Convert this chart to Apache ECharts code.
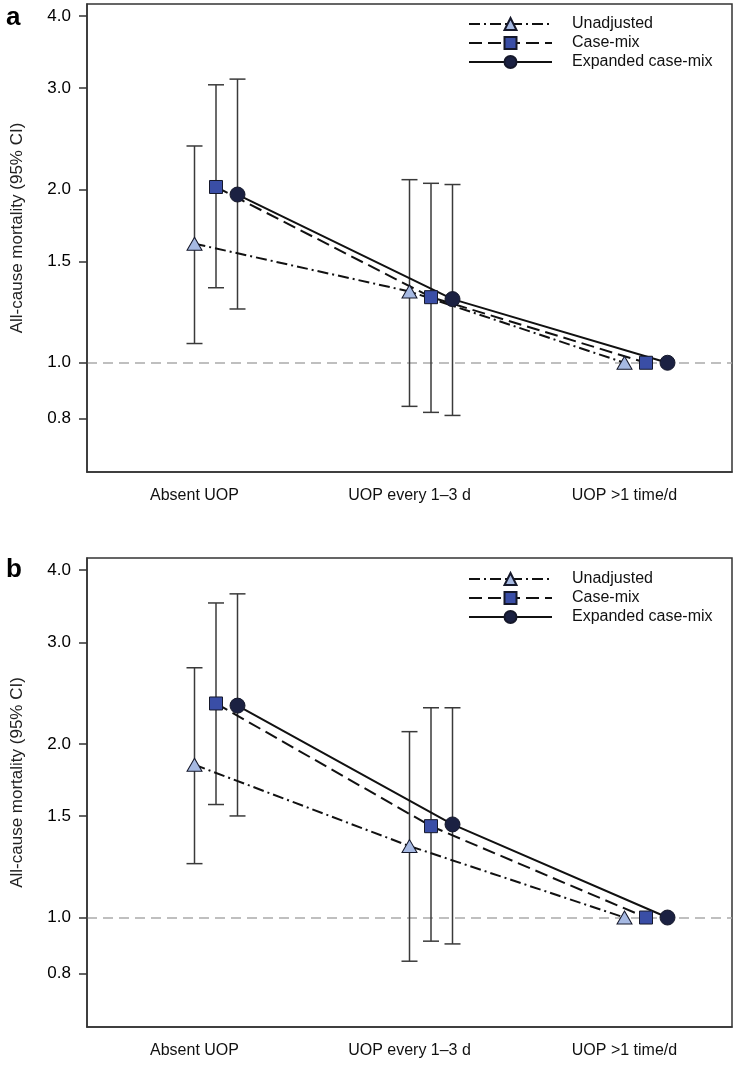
<!DOCTYPE html>
<html>
<head>
<meta charset="utf-8">
<title>All-cause mortality by UOP</title>
<script src="https://cdn.jsdelivr.net/npm/echarts@6/dist/echarts.min.js"></script>
<style>
  html, body { margin: 0; padding: 0; background: #fff; }
  #chart { width: 736px; height: 1065px; }
</style>
</head>
<body>
<div id="chart"></div>
<script>
// categories and legend names
const categories = ["Absent UOP", "UOP every 1\u20133 d", "UOP >1 time/d"];
const seriesNames = ["Unadjusted", "Case-mix", "Expanded case-mix"];
const yTicks = [0.8, 1.0, 1.5, 2.0, 3.0, 4.0];

// panel a: estimates, lower and upper 95% CI (reference group has none)
const aUnadj = [1.61, 1.33, 1.0];
const aUnadjLo = [1.08, 0.84, null];
const aUnadjHi = [2.38, 2.08, null];
const aCase = [2.02, 1.30, 1.0];
const aCaseLo = [1.35, 0.82, null];
const aCaseHi = [3.04, 2.05, null];
const aExp = [1.96, 1.29, 1.0];
const aExpLo = [1.24, 0.81, null];
const aExpHi = [3.11, 2.04, null];

// panel b
const bUnadj = [1.84, 1.33, 1.0];
const bUnadjLo = [1.24, 0.84, null];
const bUnadjHi = [2.71, 2.10, null];
const bCase = [2.35, 1.44, 1.0];
const bCaseLo = [1.57, 0.91, null];
const bCaseHi = [3.51, 2.31, null];
const bExp = [2.33, 1.45, 1.0];
const bExpLo = [1.50, 0.90, null];
const bExpHi = [3.64, 2.31, null];

const FONT = "'Liberation Sans', Arial, sans-serif";
const dodge = 0.1; // horizontal shift between the three models

const styles = [
  { symbol: "triangle", size: [15, 13], fill: "#a6b9e2", dash: [11, 4, 2, 4] },
  { symbol: "rect", size: 13, fill: "#3a4ea6", dash: [13, 6] },
  { symbol: "circle", size: 15, fill: "#1b2142", dash: "solid" },
];

const chart = echarts.init(document.getElementById("chart"));

function errorBars(lo, hi, k) {
  const d = [];
  lo.forEach((v, i) => {
    if (v != null) d.push([i + k * dodge, v, hi[i]]);
  });
  return d;
}

function panelSeries(p, est, lo, hi) {
  const out = [];
  est.forEach((vals, k) => {
    out.push({
      type: "custom",
      name: seriesNames[k] + " CI",
      xAxisIndex: p * 2 + 1,
      yAxisIndex: p,
      z: 1,
      silent: true,
      data: errorBars(lo[k], hi[k], k),
      renderItem(params, api) {
        const x = api.value(0);
        const a = api.coord([x, api.value(1)]);
        const b = api.coord([x, api.value(2)]);
        const w = 8;
        const st = { stroke: "#3a3a3a", lineWidth: 1.5 };
        return {
          type: "group",
          children: [
            { type: "line", shape: { x1: a[0], y1: a[1], x2: b[0], y2: b[1] }, style: st },
            { type: "line", shape: { x1: a[0] - w, y1: a[1], x2: a[0] + w, y2: a[1] }, style: st },
            { type: "line", shape: { x1: b[0] - w, y1: b[1], x2: b[0] + w, y2: b[1] }, style: st },
          ],
        };
      },
    });
  });
  est.forEach((vals, k) => {
    const s = styles[k];
    const line = {
      type: "line",
      name: seriesNames[k],
      xAxisIndex: p * 2 + 1,
      yAxisIndex: p,
      z: 3,
      data: vals.map((v, i) => [i + k * dodge, v]),
      symbol: s.symbol,
      symbolSize: s.size,
      showAllSymbol: true,
      lineStyle: { color: "#111", width: 2, type: s.dash },
      itemStyle: { color: s.fill, borderColor: "#15182a", borderWidth: 1 },
      emphasis: { disabled: true },
      animation: false,
    };
    if (k === 0) {
      line.markLine = {
        silent: true,
        symbol: "none",
        z: 0,
        label: { show: false },
        lineStyle: { color: "#aaa", width: 1.5, type: [10, 6] },
        data: [{ yAxis: 1 }],
      };
    }
    out.push(line);
  });
  return out;
}

const grids = [
  { left: 87, right: 4, top: 4, height: 468 },
  { left: 87, right: 4, top: 558, height: 469 },
];

const xAxes = [];
const yAxes = [];
grids.forEach((g, p) => {
  xAxes.push({
    type: "category",
    gridIndex: p,
    data: categories,
    boundaryGap: true,
    axisLine: { onZero: false, lineStyle: { color: "#333", width: 1.5 } },
    axisTick: { alignWithLabel: true, length: 8, lineStyle: { color: "#333", width: 1.5 } },
    axisLabel: { color: "#111", fontSize: 16, fontFamily: FONT, margin: 16 },
  });
  xAxes.push({ type: "value", gridIndex: p, min: -0.5, max: 2.5, show: false });
  yAxes.push({
    type: "log",
    logBase: 10,
    gridIndex: p,
    min: 0.646,
    max: 4.2,
    name: "All-cause mortality (95% CI)",
    nameLocation: "middle",
    nameGap: 61,
    nameTextStyle: { color: "#222", fontSize: 17, fontFamily: FONT, padding: [0, 0, 0, 20] },
    axisLine: { show: true, onZero: false, lineStyle: { color: "#333", width: 1.5 } },
    axisTick: { show: true, length: 8, customValues: yTicks, lineStyle: { color: "#333", width: 1.5 } },
    axisLabel: {
      color: "#000",
      fontSize: 17,
      fontFamily: FONT,
      margin: 16,
      customValues: yTicks,
      formatter: (v) => Number(v).toFixed(1),
    },
    splitLine: { show: false },
    minorTick: { show: false },
  });
});

const legendBase = {
  orient: "vertical",
  left: 463,
  itemWidth: 83,
  itemHeight: 15,
  itemGap: 3,
  data: seriesNames,
  selectedMode: false,
  textStyle: { color: "#111", fontSize: 16, fontFamily: FONT, padding: [0, 0, 0, 15] },
};

chart.setOption({
  animation: false,
  backgroundColor: "#fff",
  title: [
    { text: "a", left: 1, top: 0, textStyle: { fontSize: 26, fontWeight: "bold", color: "#000", fontFamily: FONT } },
    { text: "b", left: 1, top: 552, textStyle: { fontSize: 26, fontWeight: "bold", color: "#000", fontFamily: FONT } },
  ],
  legend: [
    Object.assign({}, legendBase, { top: 11 }),
    Object.assign({}, legendBase, { top: 566 }),
  ],
  grid: grids.map((g) => Object.assign({ show: true, borderColor: "#333", borderWidth: 1.5 }, g)),
  xAxis: xAxes,
  yAxis: yAxes,
  series: [].concat(
    panelSeries(0, [aUnadj, aCase, aExp], [aUnadjLo, aCaseLo, aExpLo], [aUnadjHi, aCaseHi, aExpHi]),
    panelSeries(1, [bUnadj, bCase, bExp], [bUnadjLo, bCaseLo, bExpLo], [bUnadjHi, bCaseHi, bExpHi])
  ),
});
</script>
</body>
</html>
